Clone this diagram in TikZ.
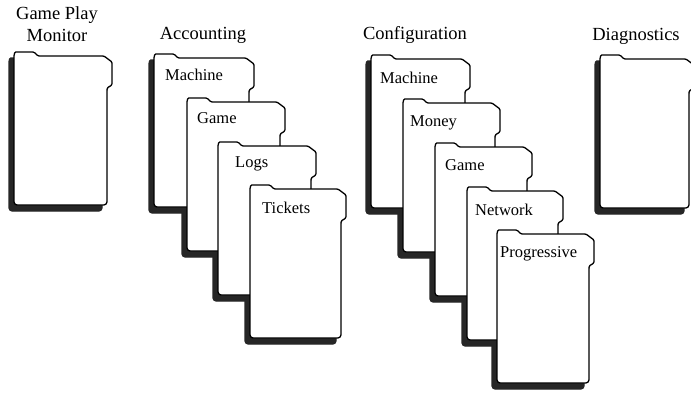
\documentclass[tikz,border=0pt]{standalone}
\usepackage{fontspec}
\setmainfont{Liberation Serif}
\tikzset{
  folderline/.style={draw=black, line width=1.3pt, fill=white, line join=round, rounded corners=1.2pt},
  foldershadow/.style={draw=black!85, fill=black!85, line width=1.3pt, line join=round, rounded corners=1.2pt},
  heading/.style={font=\fontsize{18.5}{22}\selectfont, align=center, anchor=base, inner sep=0pt},
  tablabel/.style={font=\fontsize{16.5}{18}\selectfont, anchor=base west, inner sep=0pt},
}
% #1 = x of left edge, #2 = y of tab top, #3 = width (incl. notch)
\newcommand\folderbody[3]{%
  \begin{scope}[shift={(#1,#2)}]
    \filldraw[folderline] (0,5) .. controls (0,1.5) and (1,0) .. (3,0) -- (20,0) -- (24,4) -- (#3-8,4) -- (#3,10)
      -- (#3,33) -- (#3-5,36) -- (#3-5,151) -- (#3-7,153) -- (2,153) -- (0,151) -- cycle;
  \end{scope}}
\newcommand\foldershade[3]{%
  \begin{scope}[shift={(#1-5,#2+6)}]
    \filldraw[foldershadow] (0,5) .. controls (0,1.5) and (1,0) .. (3,0) -- (20,0) -- (24,4) -- (#3-8,4) -- (#3,10)
      -- (#3,33) -- (#3-5,36) -- (#3-5,151) -- (#3-7,153) -- (2,153) -- (0,151) -- cycle;
  \end{scope}}
\begin{document}
\begin{tikzpicture}[x=1pt, y=-1pt]
  \useasboundingbox (0,0) rectangle (691,392);
  \clip (0,0) rectangle (691,392);

  % Game Play Monitor
  \foldershade{14}{52}{98}
  \folderbody{14}{52}{98}

  % Accounting stack
  \foldershade{154}{54}{100}
  \foldershade{187}{98}{98}
  \foldershade{218}{142}{98}
  \foldershade{250}{185}{96}
  \folderbody{154}{54}{100}
  \folderbody{187}{98}{98}
  \folderbody{218}{142}{98}
  \folderbody{250}{185}{96}

  % Configuration stack
  \foldershade{371}{55}{99}
  \foldershade{403}{99}{97}
  \foldershade{435}{143}{97}
  \foldershade{467}{187}{96}
  \foldershade{497}{230}{97}
  \folderbody{371}{55}{99}
  \folderbody{403}{99}{97}
  \folderbody{435}{143}{97}
  \folderbody{467}{187}{96}
  \folderbody{497}{230}{97}

  % Diagnostics
  \foldershade{600}{55}{94}
  \folderbody{600}{55}{94}

  % Headings
  \node[heading] (gpm) at (57,41) {Game Play\\Monitor};
  \node[heading] (acc) at (203,39) {Accounting};
  \node[heading] (cfg) at (415,39) {Configuration};
  \node[heading] (diag) at (636,40) {Diagnostics};

  % Tab labels
  \node[tablabel] (am) at (165,80) {Machine};
  \node[tablabel] (ag) at (197,123) {Game};
  \node[tablabel] (al) at (235,167) {Logs};
  \node[tablabel] (at) at (262,213) {Tickets};
  \node[tablabel] (cm) at (380,83) {Machine};
  \node[tablabel] (cmo) at (410,126) {Money};
  \node[tablabel] (cg) at (445,170) {Game};
  \node[tablabel] (cn) at (475,215) {Network};
  \node[tablabel] (cp) at (500,257) {Progressive};
\end{tikzpicture}
\end{document}
